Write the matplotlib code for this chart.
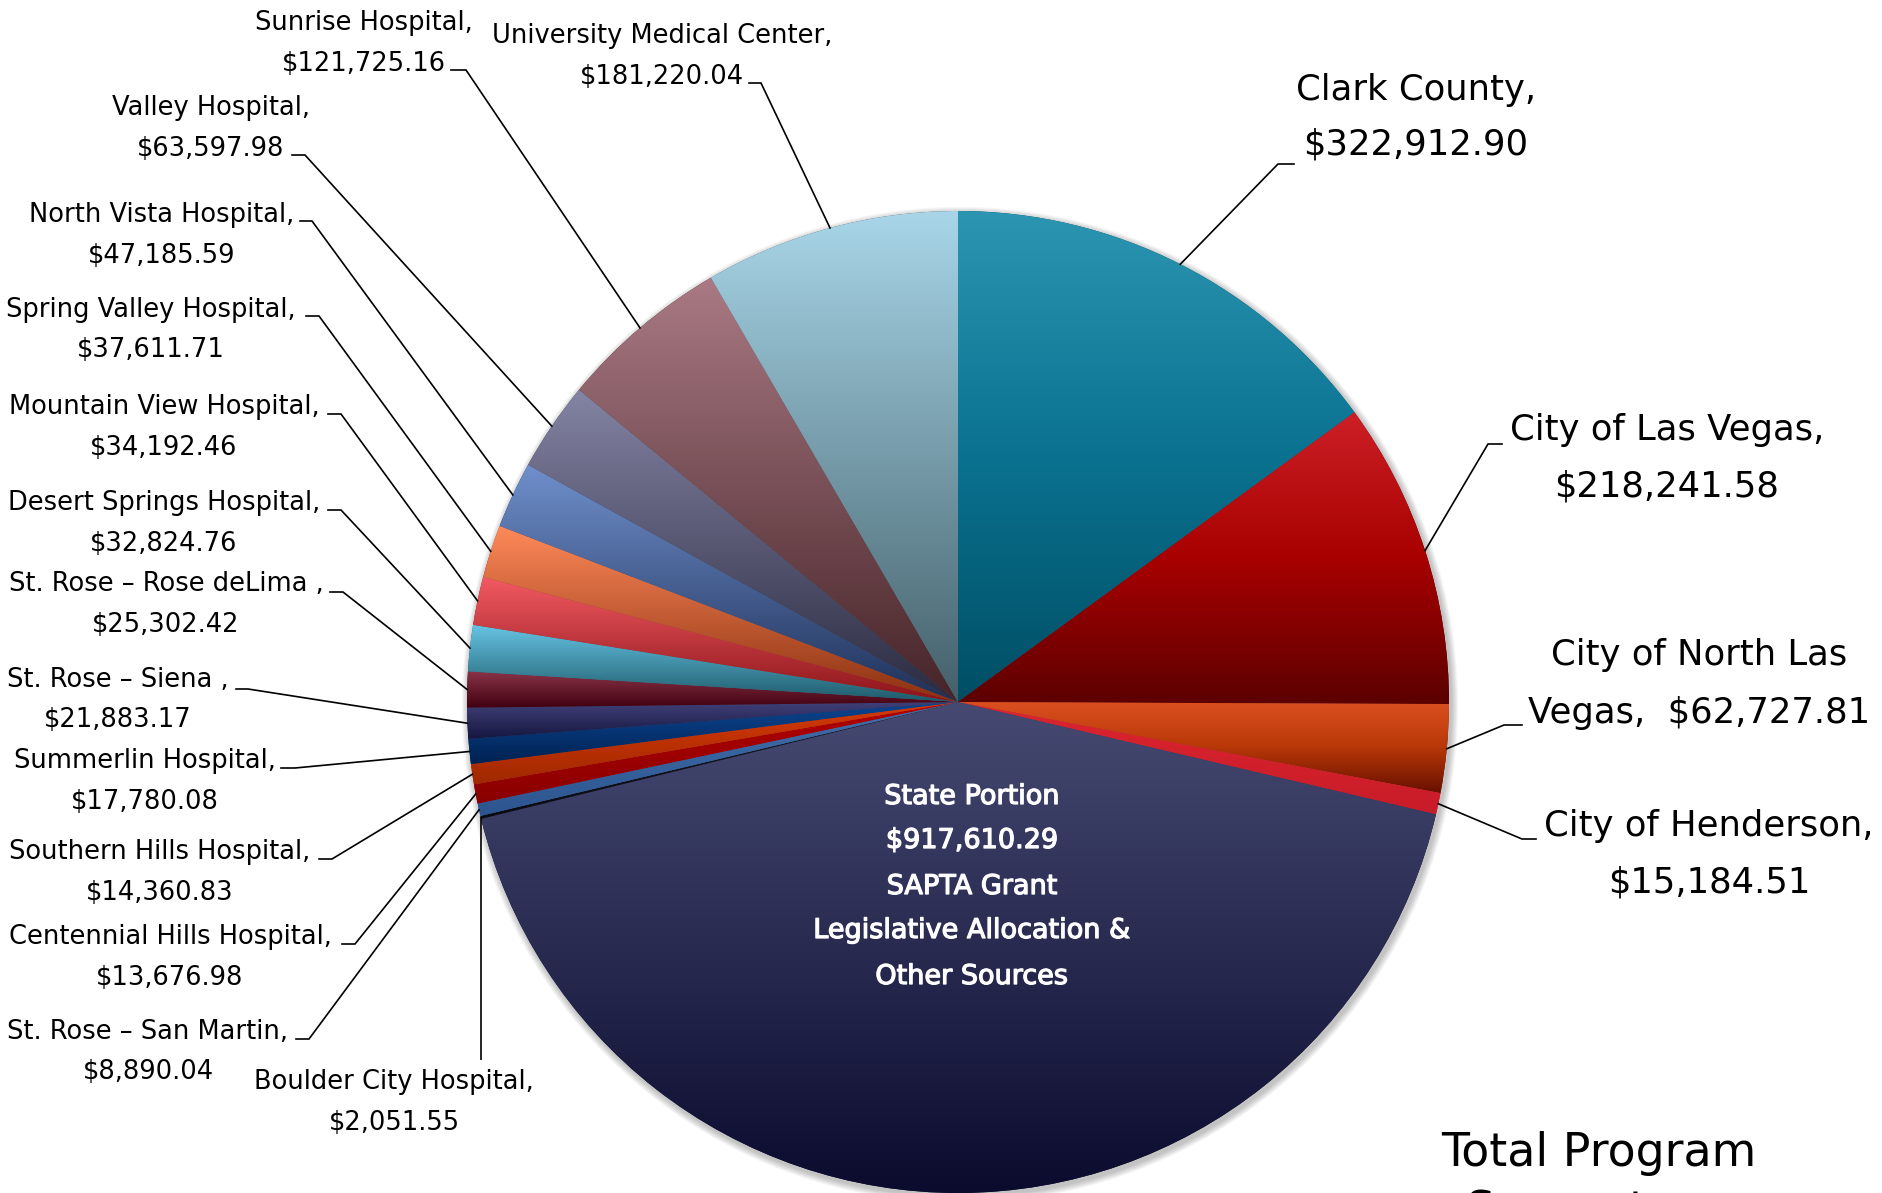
import matplotlib
matplotlib.use('Agg')
import matplotlib.pyplot as plt
import matplotlib.patheffects as pe
import numpy as np
from matplotlib.colors import LinearSegmentedColormap
from matplotlib.patches import Circle

W, H = 1882, 1193

# slices, clockwise from 12 o'clock
names = ['Clark County', 'City of Las Vegas', 'City of North Las Vegas', 'City of Henderson',
         'State Portion', 'Boulder City Hospital', 'St. Rose - San Martin',
         'Centennial Hills Hospital', 'Southern Hills Hospital', 'Summerlin Hospital',
         'St. Rose - Siena', 'St. Rose - Rose deLima', 'Desert Springs Hospital',
         'Mountain View Hospital', 'Spring Valley Hospital', 'North Vista Hospital',
         'Valley Hospital', 'Sunrise Hospital', 'University Medical Center']
amounts = [322912.90, 218241.58, 62727.81, 15184.51, 917610.29, 2051.55, 8890.04,
           13676.98, 14360.83, 17780.08, 21883.17, 25302.42, 32824.76, 34192.46,
           37611.71, 47185.59, 63597.98, 121725.16, 181220.04]

# label text as printed on the chart (first line, second line)
label_lines = [
    ('Clark County,', '$322,912.90'),
    ('City of Las Vegas,', '$218,241.58'),
    ('City of North Las', 'Vegas,  $62,727.81'),
    ('City of Henderson,', '$15,184.51'),
    None,
    ('Boulder City Hospital,', '$2,051.55'),
    ('St. Rose \u2013 San Martin,', '$8,890.04'),
    ('Centennial Hills Hospital,', '$13,676.98'),
    ('Southern Hills Hospital,', '$14,360.83'),
    ('Summerlin Hospital,', '$17,780.08'),
    ('St. Rose \u2013 Siena ,', '$21,883.17'),
    ('St. Rose \u2013 Rose deLima ,', '$25,302.42'),
    ('Desert Springs Hospital,', '$32,824.76'),
    ('Mountain View Hospital,', '$34,192.46'),
    ('Spring Valley Hospital,', '$37,611.71'),
    ('North Vista Hospital,', '$47,185.59'),
    ('Valley Hospital,', '$63,597.98'),
    ('Sunrise Hospital,', '$121,725.16'),
    ('University Medical Center,', '$181,220.04'),
]
state_lines = ['State Portion', '$917,610.29', 'SAPTA Grant',
               'Legislative Allocation &', 'Other Sources']

# gradient colours per slice, listed bottom -> top
gradients = [
    ['#004e64', '#0a7290', '#2b95b2'],
    ['#5c0000', '#a80000', '#cc2026'],
    ['#681000', '#b83808', '#dc5020'],
    ['#c81c28', '#dc2530'],
    ['#0b0b2e', '#464a72'],
    ['#0a0a14', '#1c1c2c'],
    ['#2d5590', '#4170aa'],
    ['#880000', '#b40000'],
    ['#a02800', '#d83a08'],
    ['#002252', '#0d4692'],
    ['#161640', '#404078'],
    ['#400010', '#8a3448'],
    ['#1e5a6a', '#66c4e4'],
    ['#8a1418', '#f25a62'],
    ['#8a3010', '#ff8a5a'],
    ['#1e3058', '#7090cc'],
    ['#2a2a40', '#8484a4'],
    ['#452428', '#aa7a84'],
    ['#44606a', '#a8d6e8'],
]

# label layout in image pixels: text centre x, line1 y, line2 y, tick near x, tick far x, tick y
layout = {
    0: (1416, 90, 145, 1278, 1294, 164),
    1: (1667, 430, 486, 1488, 1502, 444),
    2: (1699, 655, 713, 1504, 1522, 725),
    3: (1709, 826, 882, 1522, 1536, 839),
    5: (394, 1082, 1123, None, None, 1060),
    6: (148, 1032, 1072, 309, 296, 1039),
    7: (170, 937, 978, 355, 342, 944),
    8: (160, 852, 893, 332, 319, 859),
    9: (145, 761, 802, 295, 281, 768),
    10: (118, 680, 720, 248, 236, 689),
    11: (166, 584, 625, 343, 330, 592),
    12: (164, 503, 544, 341, 328, 510),
    13: (164, 407, 448, 341, 328, 414),
    14: (151, 310, 350, 319, 306, 316),
    15: (162, 215, 256, 312, 300, 221),
    16: (211, 108, 149, 305, 292, 155),
    17: (364, 23, 64, 466, 451, 70),
    18: (662, 36, 77, 761, 749, 83),
}


def fy(y):
    return H - y


cx, cy, r = 958, fy(702), 491

fig = plt.figure(figsize=(W / 100, H / 100), dpi=100)
ax = fig.add_axes([0, 0, 1, 1])

# soft shadow
for k in range(1, 9):
    ax.add_patch(Circle((cx + 2, cy - 3), r + k * 0.9, facecolor='#000000',
                        edgecolor='none', alpha=0.03, zorder=0))

wedges, _ = ax.pie(amounts, startangle=90, counterclock=False, center=(cx, cy),
                   radius=r, colors=[g[0] for g in gradients],
                   wedgeprops=dict(linewidth=0), frame=True)

grad = np.linspace(0, 1, 256).reshape(-1, 1)
for w, cols in zip(wedges, gradients):
    w.set_zorder(1)
    bb = w.get_path().get_extents()
    cmap = LinearSegmentedColormap.from_list('g', cols)
    im = ax.imshow(grad, cmap=cmap, origin='lower', aspect='auto', interpolation='bilinear',
                   extent=[bb.x0, bb.x1, bb.y0, bb.y1], zorder=2)
    im.set_clip_path(w)

# labels + leader lines
for i, lines in enumerate(label_lines):
    if lines is None:
        continue
    tx, y1, y2, near, far, ty = layout[i]
    right = i <= 3
    fs = 25.5 if right else 18.5
    ax.text(tx, fy(y1), lines[0], ha='center', va='center', fontsize=fs, color='black')
    ax.text(tx, fy(y2), lines[1], ha='center', va='center', fontsize=fs, color='black')

    w = wedges[i]
    mid = np.deg2rad((w.theta1 + w.theta2) / 2)
    ex, ey = cx + r * np.cos(mid), cy + r * np.sin(mid)
    if near is None:
        ax.plot([ex, ex], [ey, fy(ty)], color='black', lw=1.2, zorder=5,
                solid_capstyle='butt')
    else:
        ax.plot([ex, near, far], [ey, fy(ty), fy(ty)], color='black', lw=1.2, zorder=5,
                solid_joinstyle='miter')

# state portion text inside the big slice
for s, yy in zip(state_lines, [797, 841, 887, 931, 977]):
    ax.text(972, fy(yy), s, ha='center', va='center', fontsize=19.5, color='white', zorder=6,
            path_effects=[pe.withStroke(linewidth=0.9, foreground='white')])

ax.text(1599, fy(1154), 'Total Program', ha='center', va='center', fontsize=33, color='black')
ax.text(1466, fy(1212), 'Support', ha='left', va='center', fontsize=33, color='black')

ax.set_xlim(0, W)
ax.set_ylim(0, H)
ax.set_aspect('auto')
ax.axis('off')

fig.savefig('out.png', dpi=100, facecolor='white')
